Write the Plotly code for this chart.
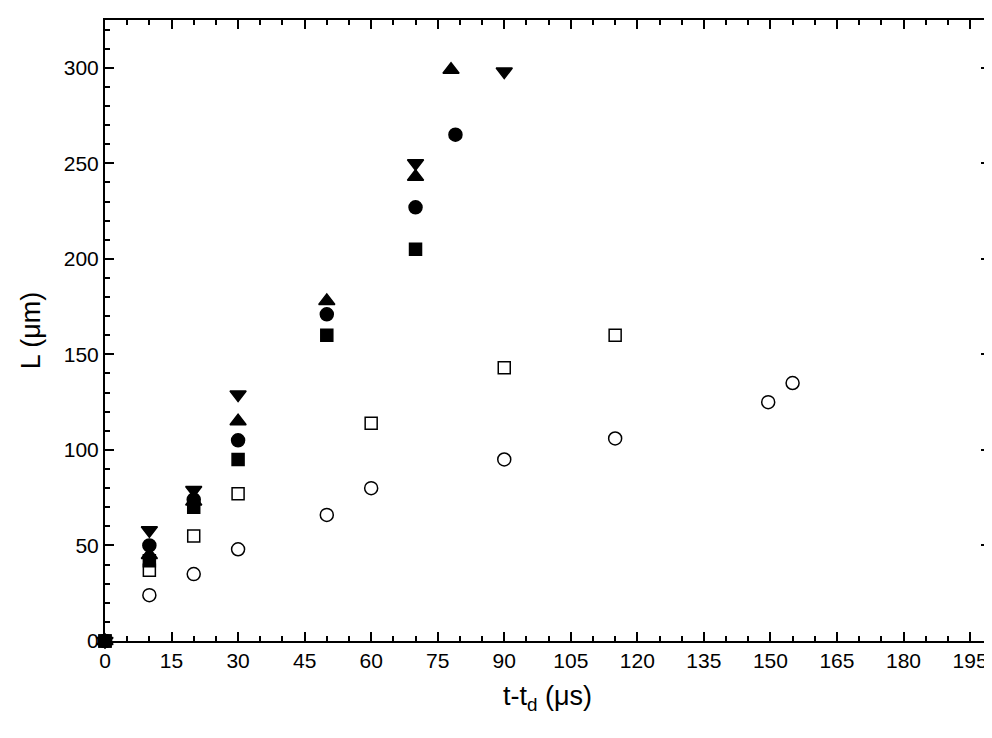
import plotly.graph_objects as go

oc_x = [0, 10, 20, 30, 50, 60, 90, 115, 149.5, 155]
oc_y = [0, 24, 35, 48, 66, 80, 95, 106, 125, 135]
os_x = [0, 10, 20, 30, 60, 90, 115]
os_y = [0, 37, 55, 77, 114, 143, 160]
fs_x = [0, 10, 20, 30, 50, 70]
fs_y = [0, 42, 70, 95, 160, 205]
fc_x = [0, 10, 20, 30, 50, 70, 79]
fc_y = [0, 50, 74, 105, 171, 227, 265]
ut_x = [0, 10, 20, 30, 50, 70, 78]
ut_y = [0, 45, 73, 115, 178, 243, 299]
dt_x = [0, 10, 20, 30, 70, 90]
dt_y = [0, 58, 79, 129, 250, 298]

fig = go.Figure()
def add(x, y, sym, size=13):
    fig.add_trace(go.Scatter(x=x, y=y, mode="markers", cliponaxis=False,
        marker=dict(symbol=sym, size=size, color="black",
                    line=dict(color="black", width=1.5))))
add(oc_x, oc_y, "circle-open")
add(os_x, os_y, "square-open", 12)
add(fs_x, fs_y, "square", 12)
add(fc_x, fc_y, "circle")
add(ut_x, ut_y, "triangle-up", 14)
add(dt_x, dt_y, "triangle-down", 14)

FONT = "Liberation Sans, Arial"
ax = dict(showline=True, linecolor="black", linewidth=2, mirror="ticks",
          ticks="inside", ticklen=9, tickwidth=2, tickcolor="black",
          showgrid=False, zeroline=False,
          tickfont=dict(family=FONT, size=21, color="black"),
          minor=dict(ticks="inside", ticklen=5, tickwidth=2, tickcolor="black"))
fig.update_xaxes(**ax, range=[0, 199.5], tick0=0, dtick=15,
                 title=dict(text="t-t<sub>d</sub> (μs)", font=dict(family=FONT, size=27, color="black")))
fig.update_yaxes(**ax, range=[0, 325], tick0=0, dtick=50,
                 title=dict(text="L (μm)", font=dict(family=FONT, size=27, color="black")))
fig.update_layout(width=992, height=738, plot_bgcolor="white", paper_bgcolor="white",
                  showlegend=False, margin=dict(l=97, r=8, t=12, b=105))
fig.write_html("out.html")
